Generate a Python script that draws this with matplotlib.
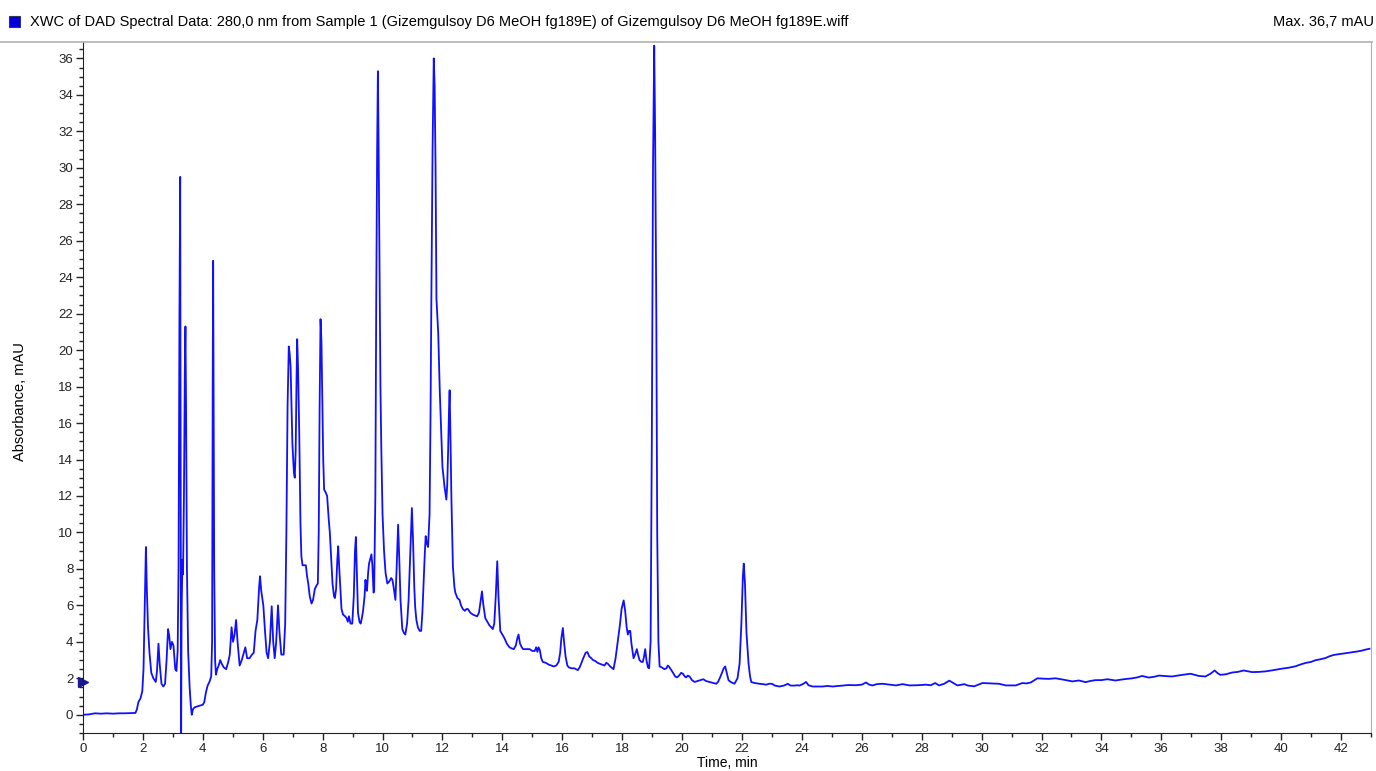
import matplotlib
matplotlib.use("Agg")
import matplotlib.pyplot as plt
from matplotlib.ticker import MultipleLocator
from matplotlib.lines import Line2D
from matplotlib.patches import Rectangle

plt.rcParams["font.family"] = ["Liberation Sans", "DejaVu Sans"]

# chromatogram trace (time in min, absorbance in mAU)
time_min = [
    0.00, 0.20, 0.40, 0.60, 0.80, 1.00, 1.20, 1.40, 1.60, 1.75, 1.80, 1.85, 1.92, 1.98,
    2.02, 2.06, 2.10, 2.13, 2.17, 2.22, 2.28, 2.35, 2.43, 2.47, 2.52, 2.56, 2.62, 2.68,
    2.74, 2.79, 2.84, 2.88, 2.92, 2.97, 3.02, 3.08, 3.12, 3.16, 3.19, 3.22, 3.245, 3.26,
    3.275, 3.29, 3.30, 3.32, 3.34, 3.37, 3.40, 3.42, 3.44, 3.47, 3.51, 3.56, 3.60, 3.63,
    3.67, 3.72, 3.80, 3.90, 4.00, 4.05, 4.10, 4.16, 4.22, 4.28, 4.31, 4.33, 4.345, 4.36,
    4.38, 4.41, 4.44, 4.48, 4.53, 4.58, 4.63, 4.70, 4.78, 4.85, 4.90, 4.96, 5.01, 5.06,
    5.11, 5.16, 5.23, 5.30, 5.37, 5.42, 5.48, 5.56, 5.64, 5.70, 5.76, 5.82, 5.88, 5.91,
    5.95, 6.02, 6.08, 6.13, 6.18, 6.24, 6.30, 6.35, 6.40, 6.45, 6.51, 6.56, 6.62, 6.70,
    6.75, 6.79, 6.83, 6.87, 6.90, 6.93, 6.99, 7.04, 7.07, 7.10, 7.13, 7.15, 7.18, 7.22,
    7.26, 7.29, 7.33, 7.40, 7.44, 7.48, 7.52, 7.57, 7.63, 7.68, 7.74, 7.80, 7.84, 7.87,
    7.90, 7.93, 7.96, 7.99, 8.02, 8.05, 8.10, 8.15, 8.20, 8.24, 8.29, 8.33, 8.38, 8.41,
    8.45, 8.49, 8.52, 8.55, 8.59, 8.63, 8.68, 8.75, 8.80, 8.84, 8.88, 8.93, 8.99, 9.04,
    9.08, 9.11, 9.14, 9.18, 9.23, 9.27, 9.31, 9.35, 9.40, 9.43, 9.46, 9.48, 9.52, 9.55,
    9.60, 9.63, 9.66, 9.70, 9.72, 9.76, 9.79, 9.82, 9.845, 9.87, 9.91, 9.93, 9.96, 10.00,
    10.05, 10.10, 10.16, 10.22, 10.29, 10.33, 10.37, 10.43, 10.47, 10.52, 10.56, 10.60,
    10.66, 10.71, 10.76, 10.82, 10.87, 10.93, 10.98, 11.02, 11.06, 11.09, 11.13, 11.18,
    11.24, 11.29, 11.33, 11.37, 11.41, 11.44, 11.48, 11.52, 11.57, 11.60, 11.63, 11.67,
    11.71, 11.74, 11.77, 11.80, 11.86, 11.91, 11.96, 12.00, 12.07, 12.13, 12.16, 12.19,
    12.22, 12.24, 12.27, 12.30, 12.35, 12.40, 12.43, 12.50, 12.57, 12.62, 12.68, 12.75,
    12.80, 12.85, 12.93, 13.01, 13.08, 13.16, 13.22, 13.28, 13.32, 13.36, 13.43, 13.50,
    13.57, 13.63, 13.68, 13.73, 13.78, 13.83, 13.87, 13.93, 14.00, 14.07, 14.15, 14.24,
    14.30, 14.38, 14.45, 14.50, 14.54, 14.59, 14.65, 14.69, 14.80, 14.91, 15.00, 15.08,
    15.13, 15.17, 15.21, 15.25, 15.30, 15.35, 15.45, 15.55, 15.63, 15.72, 15.80, 15.88,
    15.93, 15.97, 16.02, 16.06, 16.11, 16.17, 16.22, 16.30, 16.40, 16.52, 16.58, 16.63,
    16.70, 16.78, 16.84, 16.90, 16.97, 17.03, 17.10, 17.18, 17.25, 17.33, 17.41, 17.47,
    17.52, 17.60, 17.71, 17.78, 17.86, 17.93, 17.98, 18.05, 18.10, 18.15, 18.19, 18.23,
    18.27, 18.31, 18.38, 18.43, 18.49, 18.53, 18.58, 18.64, 18.69, 18.73, 18.77, 18.81,
    18.86, 18.90, 18.95, 18.99, 19.03, 19.07, 19.10, 19.14, 19.17, 19.21, 19.25, 19.32,
    19.41, 19.48, 19.52, 19.56, 19.62, 19.70, 19.77, 19.83, 19.90, 19.97, 20.03, 20.09,
    20.14, 20.19, 20.25, 20.33, 20.42, 20.52, 20.62, 20.71, 20.80, 20.91, 21.03, 21.14,
    21.20, 21.27, 21.33, 21.39, 21.44, 21.49, 21.55, 21.62, 21.75, 21.85, 21.92, 21.98,
    22.03, 22.06, 22.10, 22.15, 22.22, 22.27, 22.31, 22.40, 22.50, 22.58, 22.70, 22.81,
    22.90, 23.00, 23.10, 23.25, 23.40, 23.53, 23.62, 23.75, 23.85, 23.92, 24.05, 24.14,
    24.22, 24.36, 24.50, 24.69, 24.85, 25.03, 25.20, 25.36, 25.47, 25.58, 25.80, 26.00,
    26.14, 26.25, 26.36, 26.50, 26.70, 26.90, 27.14, 27.36, 27.59, 27.85, 28.14, 28.30,
    28.45, 28.58, 28.75, 28.92, 29.05, 29.19, 29.30, 29.42, 29.55, 29.75, 30.03, 30.30,
    30.58, 30.81, 31.14, 31.36, 31.50, 31.64, 31.75, 31.86, 32.05, 32.25, 32.47, 32.75,
    33.03, 33.25, 33.47, 33.65, 33.81, 34.00, 34.20, 34.47, 34.75, 35.03, 35.20, 35.36,
    35.58, 35.75, 35.92, 36.15, 36.36, 36.55, 36.70, 36.98, 37.25, 37.47, 37.64, 37.78,
    37.88, 37.97, 38.15, 38.37, 38.55, 38.75, 39.03, 39.25, 39.48, 39.75, 40.03, 40.25,
    40.48, 40.65, 40.81, 41.00, 41.14, 41.30, 41.48, 41.60, 41.75, 42.00, 42.25, 42.50,
    42.70, 42.81, 42.95,
]
absorbance = [
    0.00, 0.02, 0.08, 0.06, 0.08, 0.06, 0.08, 0.08, 0.09, 0.10, 0.30, 0.70, 0.90, 1.30,
    2.50, 6.00, 9.20, 7.00, 4.80, 3.40, 2.30, 2.00, 1.80, 2.40, 3.90, 2.80, 1.70, 1.55,
    1.70, 3.00, 4.70, 4.30, 3.60, 4.00, 3.80, 2.50, 2.40, 3.50, 8.00, 22.0, 29.5, 15.0,
    -2.0, 5.0, 6.5, 8.5, 7.7, 12.0, 19.0, 21.3, 17.0, 8.0, 3.5, 1.5, 0.5, 0.0,
    0.3, 0.4, 0.45, 0.5, 0.55, 0.7, 1.2, 1.6, 1.8, 2.1, 4.0, 18.0, 24.9, 18.0,
    8.0, 3.0, 2.2, 2.5, 2.7, 3.0, 2.8, 2.6, 2.5, 2.9, 3.3, 4.8, 4.0, 4.4,
    5.2, 4.0, 2.7, 3.0, 3.4, 3.7, 3.1, 3.1, 3.3, 3.4, 4.6, 5.2, 7.0, 7.6,
    6.8, 6.0, 4.5, 3.4, 3.1, 4.0, 5.95, 4.0, 3.1, 4.0, 6.0, 4.5, 3.3, 3.3,
    5.0, 10.0, 17.0, 20.2, 19.8, 19.1, 14.9, 13.3, 13.0, 14.5, 18.5, 20.6, 19.0, 15.4,
    10.5, 8.7, 8.2, 8.2, 8.2, 7.6, 7.2, 6.5, 6.1, 6.3, 6.9, 7.1, 7.2, 10.0,
    17.0, 21.7, 20.5, 17.3, 14.0, 12.35, 12.2, 12.0, 10.8, 10.0, 8.4, 7.2, 6.5, 6.4,
    6.9, 8.5, 9.24, 8.2, 7.0, 5.8, 5.5, 5.4, 5.3, 5.1, 5.4, 5.0, 5.0, 6.5,
    9.0, 9.75, 8.0, 5.6, 5.1, 5.0, 5.3, 5.7, 6.5, 7.4, 6.9, 6.8, 7.8, 8.3,
    8.6, 8.8, 8.2, 6.7, 6.8, 12.0, 22.8, 31.0, 35.3, 31.0, 22.8, 18.0, 14.5, 11.0,
    9.0, 7.8, 7.2, 7.3, 7.5, 7.4, 7.0, 6.3, 8.0, 10.43, 8.5, 6.3,
    4.7, 4.5, 4.4, 5.0, 6.3, 9.0, 11.34, 9.5, 7.0, 5.9, 5.2, 4.8,
    4.6, 4.6, 5.6, 7.2, 8.8, 9.8, 9.4, 9.2, 11.0, 16.0, 22.8, 31.0,
    36.0, 34.5, 30.0, 22.8, 20.9, 17.8, 15.5, 13.6, 12.5, 11.8, 12.6, 14.5,
    16.8, 17.8, 15.0, 11.8, 8.1, 7.0, 6.7, 6.4, 6.3, 6.0, 5.8, 5.7,
    5.8, 5.8, 5.6, 5.5, 5.45, 5.4, 5.6, 6.3, 6.77, 6.1, 5.3, 5.1,
    4.9, 4.8, 4.7, 5.0, 6.5, 8.42, 6.5, 4.6, 4.4, 4.2, 3.9, 3.7,
    3.65, 3.6, 3.8, 4.2, 4.4, 3.9, 3.7, 3.6, 3.6, 3.6, 3.5, 3.5,
    3.7, 3.45, 3.7, 3.55, 3.1, 2.9, 2.85, 2.75, 2.7, 2.65, 2.7, 2.9,
    3.4, 4.2, 4.76, 4.0, 3.2, 2.7, 2.6, 2.55, 2.55, 2.45, 2.6, 2.8,
    3.1, 3.4, 3.44, 3.2, 3.1, 3.0, 2.95, 2.85, 2.8, 2.75, 2.7, 2.85,
    2.8, 2.65, 2.5, 3.1, 4.1, 5.0, 5.8, 6.27, 5.7, 4.8, 4.4, 4.6,
    4.6, 3.9, 3.1, 3.3, 3.6, 3.3, 3.0, 2.9, 2.9, 3.2, 3.6, 3.0,
    2.6, 2.55, 4.0, 15.0, 30.0, 36.7, 32.0, 22.0, 10.0, 4.0, 2.65, 2.6,
    2.5, 2.55, 2.7, 2.65, 2.5, 2.3, 2.1, 2.05, 2.15, 2.3, 2.25, 2.1,
    2.05, 2.15, 2.1, 1.9, 1.8, 1.85, 1.9, 1.95, 1.85, 1.8, 1.75, 1.7,
    1.8, 2.05, 2.3, 2.55, 2.65, 2.3, 1.9, 1.8, 1.7, 2.0, 2.8, 5.0,
    7.6, 8.29, 7.2, 4.5, 2.8, 2.1, 1.8, 1.75, 1.72, 1.7, 1.68, 1.65,
    1.7, 1.7, 1.6, 1.55, 1.6, 1.7, 1.6, 1.6, 1.62, 1.6, 1.7, 1.8,
    1.62, 1.55, 1.55, 1.55, 1.58, 1.55, 1.58, 1.6, 1.62, 1.63, 1.62, 1.65,
    1.77, 1.65, 1.61, 1.68, 1.70, 1.66, 1.61, 1.68, 1.61, 1.62, 1.65, 1.62,
    1.74, 1.61, 1.70, 1.87, 1.75, 1.61, 1.64, 1.68, 1.60, 1.56, 1.74, 1.72,
    1.70, 1.61, 1.61, 1.74, 1.72, 1.77, 1.88, 2.0, 1.98, 1.97, 2.0, 1.92,
    1.83, 1.88, 1.79, 1.86, 1.90, 1.90, 1.95, 1.88, 1.95, 2.0, 2.05, 2.13,
    2.04, 2.08, 2.15, 2.12, 2.1, 2.15, 2.19, 2.25, 2.13, 2.10, 2.25, 2.43,
    2.28, 2.19, 2.22, 2.32, 2.35, 2.43, 2.34, 2.35, 2.38, 2.45, 2.53, 2.58,
    2.66, 2.76, 2.84, 2.90, 2.99, 3.04, 3.11, 3.20, 3.28, 3.34, 3.40, 3.46,
    3.52, 3.57, 3.62,
]

title_text = ("XWC of DAD Spectral Data: 280,0 nm from Sample 1 "
              "(Gizemgulsoy D6 MeOH fg189E) of Gizemgulsoy D6 MeOH fg189E.wiff")
max_text = "Max. 36,7 mAU"

fig = plt.figure(figsize=(13.76, 7.71), dpi=100)
ax = fig.add_axes([83 / 1376, 38 / 771, 1288 / 1376, 691 / 771])

ax.plot(time_min, absorbance, color="#1010ff", lw=1.3)

ax.set_xlim(0, 43.0)
ax.set_ylim(-1, 36.9)
ax.xaxis.set_major_locator(MultipleLocator(2))
ax.xaxis.set_minor_locator(MultipleLocator(1))
ax.yaxis.set_major_locator(MultipleLocator(2))
ax.yaxis.set_minor_locator(MultipleLocator(0.5))
ax.tick_params(which="major", direction="out", length=5, width=1, labelsize=9.5,
               pad=2, colors="#222222")
ax.tick_params(which="minor", direction="out", length=3, width=1, colors="#222222")

ax.spines["left"].set_color("#222222")
ax.spines["bottom"].set_color("#222222")
ax.spines["top"].set_visible(False)
ax.spines["right"].set_color("#b0b0b0")

ax.set_xlabel("Time, min", fontsize=10, labelpad=1)
ax.set_ylabel("Absorbance, mAU", fontsize=10.5)
ax.yaxis.set_label_coords(-0.0435, 0.479)

# marker on the y axis
ax.plot([0], [1.8], marker=">", markersize=7, color="#1a1a90", clip_on=False,
        transform=ax.get_yaxis_transform())

# header strip
fig.add_artist(Line2D([0, 1372 / 1376], [1 - 42 / 771, 1 - 42 / 771],
                      color="#b0b0b0", lw=1.2))
fig.add_artist(Rectangle((9 / 1376, 1 - 27 / 771), 11 / 1376, 11 / 771,
                         facecolor="#0000dd", edgecolor="#333366", lw=0.8))
fig.text(30 / 1376, 1 - 22 / 771, title_text, fontsize=10.5, va="center", ha="left")
fig.text(1374 / 1376, 1 - 22 / 771, max_text, fontsize=10.5, va="center", ha="right")

fig.savefig("out.png", dpi=100)
